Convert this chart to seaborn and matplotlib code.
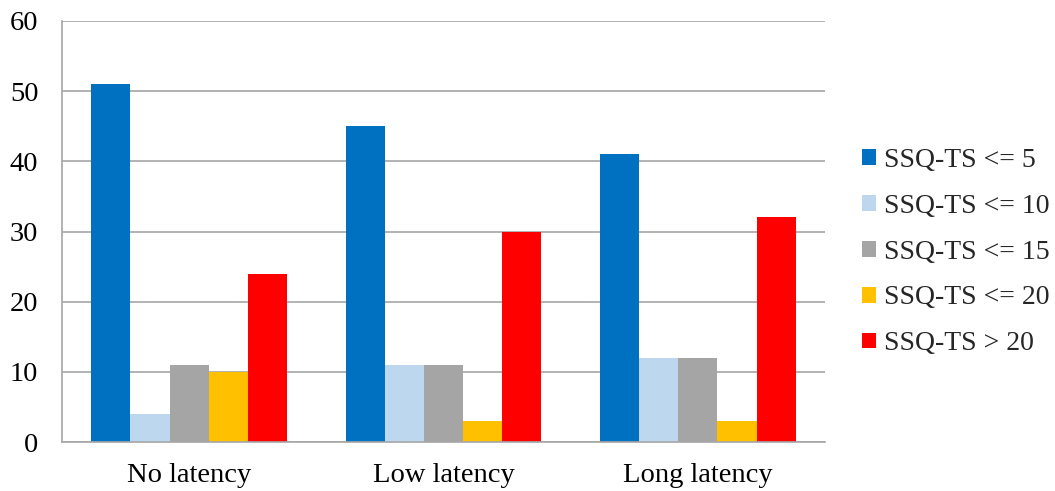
import matplotlib
matplotlib.use("Agg")
import matplotlib.pyplot as plt
import seaborn as sns
import pandas as pd
from matplotlib.patches import Patch

categories = ["No latency", "Low latency", "Long latency"]
series_names = ["SSQ-TS <= 5", "SSQ-TS <= 10", "SSQ-TS <= 15", "SSQ-TS <= 20", "SSQ-TS > 20"]
le5 = [51, 45, 41]
le10 = [4, 11, 12]
le15 = [11, 11, 12]
le20 = [10, 3, 3]
gt20 = [24, 30, 32]
colors = ["#0070C0", "#BDD7EE", "#A5A5A5", "#FFC000", "#FF0000"]

rows = []
for name, vals in zip(series_names, [le5, le10, le15, le20, gt20]):
    for c, v in zip(categories, vals):
        rows.append({"cat": c, "series": name, "value": v})
df = pd.DataFrame(rows)

sns.set_theme(style="white")
plt.rcParams['font.family'] = ['Liberation Serif', 'DejaVu Serif']

fig = plt.figure(figsize=(10.55, 4.91), dpi=100)
ax = fig.add_axes([62/1055, 1-442/491, (825-62)/1055, (442-21)/491])
sns.barplot(data=df, x="cat", y="value", hue="series", order=categories,
            hue_order=series_names, palette=colors, width=0.77, ax=ax,
            saturation=1, errorbar=None, legend=False, edgecolor="none")

ax.set_ylim(0, 60)
ax.set_xlim(-0.5, 2.5)
ax.set_yticks(range(0, 61, 10))
ax.yaxis.grid(True, color="#A6A6A6", linewidth=1.2)
ax.set_axisbelow(True)
ax.set_xlabel("")
ax.set_ylabel("")
for s in ["top", "right"]:
    ax.spines[s].set_visible(False)
for s in ["left", "bottom"]:
    ax.spines[s].set_color("#A6A6A6")
    ax.spines[s].set_linewidth(1.2)
ax.tick_params(axis="y", which="major", length=6.5, width=1.2, color="#A6A6A6", labelsize=20.5, pad=10.5)
ax.tick_params(axis="x", which="major", length=0, labelsize=20.5, pad=15)
ax.set_xticks([-0.5, 0.5, 1.5, 2.5], minor=True)
ax.tick_params(axis="x", which="minor", length=6.5, color="#A6A6A6", width=1.2)
for t in ax.get_yticklabels() + ax.get_xticklabels():
    t.set_color("black")

handles = [Patch(facecolor=c, edgecolor="none", label=n) for c, n in zip(colors, series_names)]
fig.legend(handles=handles, loc="upper left", bbox_to_anchor=(862/1055, 1-148/491),
           frameon=False, fontsize=20, handlelength=0.5, handleheight=0.5,
           handletextpad=0.3, labelspacing=0.75, borderpad=0, borderaxespad=0)

fig.savefig("out.png", dpi=100)
